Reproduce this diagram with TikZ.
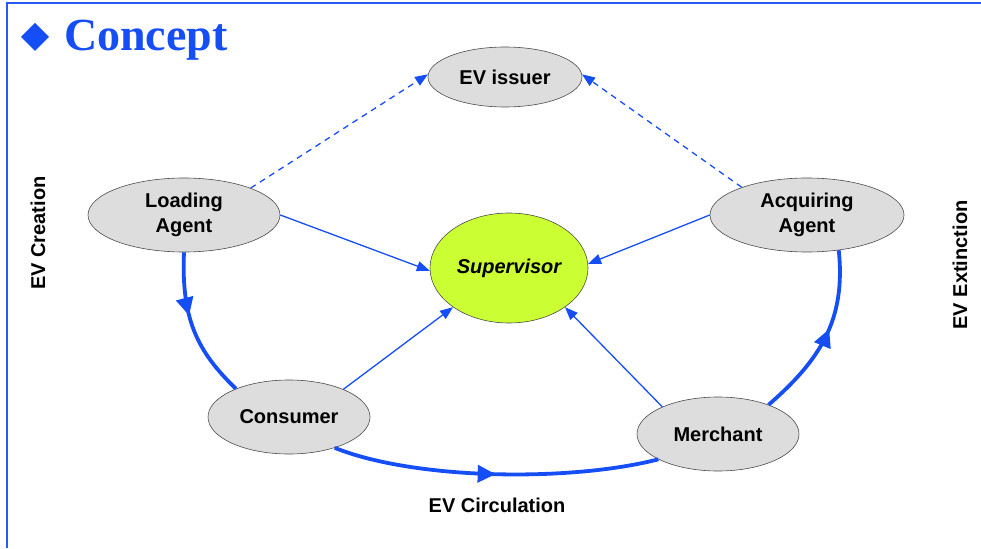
\documentclass[tikz,border=0pt]{standalone}
\usepackage{fontspec}
\setmainfont{Liberation Sans}
\newfontfamily\titlefont{Liberation Serif}
\usetikzlibrary{shapes.geometric,arrows.meta,decorations.markings}
\definecolor{evblue}{RGB}{22,78,245}
\definecolor{framblue}{RGB}{40,90,240}
\definecolor{nodegray}{RGB}{221,221,221}
\definecolor{supgreen}{RGB}{204,255,51}
\tikzset{
  ent/.style={ellipse, draw=black!70, line width=0.6pt, fill=nodegray, inner sep=0pt, align=center,
    font=\fontsize{20}{25}\selectfont\bfseries},
  thinarr/.style={draw=evblue, line width=1.3pt, -{Triangle[length=13pt,width=10pt]}},
  dasharr/.style={thinarr, dash pattern=on 6pt off 5pt},
  flow/.style={draw=evblue, line width=3.8pt, postaction={decorate},
    decoration={markings, mark=at position #1 with {\arrow{Triangle[length=18pt,width=17pt]}}}},
  lbl/.style={font=\fontsize{20}{24}\selectfont\bfseries},
}
\begin{document}
\begin{tikzpicture}[x=1pt,y=1pt]
\useasboundingbox (0,0) rectangle (981,-548);
% frame
\draw[framblue, line width=2pt] (6.5,-548) -- (6.5,-3) -- (981,-3);
% title
\fill[evblue] (35,-23) -- (49,-37) -- (35,-51) -- (21,-37) -- cycle;
\node[anchor=west, text=evblue, font=\titlefont\fontsize{46}{50}\selectfont\bfseries, inner sep=0pt] (title) at (64,-40) {Concept};
% nodes
\node[ent, minimum width=154pt, minimum height=60pt] (iss) at (505,-77) {EV issuer};
\node[ent, minimum width=192pt, minimum height=74pt] (la) at (184,-215) {Loading\\Agent};
\node[ent, minimum width=194pt, minimum height=74pt] (aa) at (807,-215) {Acquiring\\Agent};
\node[ent, fill=supgreen, minimum width=158pt, minimum height=110pt, font=\fontsize{20}{25}\selectfont\bfseries\itshape] (sup) at (509,-268) {Supervisor};
\node[ent, minimum width=162pt, minimum height=74pt] (con) at (289,-417) {Consumer};
\node[ent, minimum width=162pt, minimum height=74pt] (mer) at (718,-434) {Merchant};
% labels
\node[lbl, rotate=90] (crea) at (38,-233) {EV Creation};
\node[lbl, rotate=90] (ext) at (960,-265) {EV Extinction};
\node[lbl] (circ) at (497,-505) {EV Circulation};
% dashed
\draw[dasharr] (la.22) -- (iss.178);
\draw[dasharr] (aa.157) -- (iss.2);
% thin solid
\draw[thinarr] (la.0) -- (sup.182);
\draw[thinarr] (aa.180) -- (sup.3);
\draw[thinarr] (con.27) -- (sup.215);
\draw[thinarr] (mer.154) -- (sup.325);
% thick flow
\draw[flow=0.42] (la.-90) .. controls (181,-320) and (198,-352) .. (con.152);
\draw[flow=0.5] (con.-34) .. controls (415,-480) and (570,-482) .. (mer.203);
\draw[flow=0.55] (mer.30) .. controls (820,-360) and (846,-320) .. (aa.-48);
\end{tikzpicture}
\end{document}
